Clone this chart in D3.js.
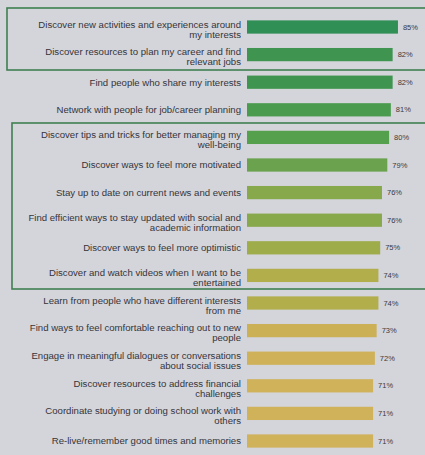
<!DOCTYPE html>
<html>
<head>
<meta charset="utf-8">
<script src="https://cdn.jsdelivr.net/npm/d3@7"></script>
<style>
  html, body { margin: 0; padding: 0; background: #d4d4db; }
  svg { display: block; }
  text { font-family: "Liberation Sans", Arial, sans-serif; }
</style>
</head>
<body>
<svg id="chart" width="425" height="455"></svg>
<script>
// Survey items (label lines separated by "\n") and share of respondents (%)
const labels = [
  "Discover new activities and experiences around\nmy interests",
  "Discover resources to plan my career and find\nrelevant jobs",
  "Find people who share my interests",
  "Network with people for job/career planning",
  "Discover tips and tricks for better managing my\nwell-being",
  "Discover ways to feel more motivated",
  "Stay up to date on current news and events",
  "Find efficient ways to stay updated with social and\nacademic information",
  "Discover ways to feel more optimistic",
  "Discover and watch videos when I want to be\nentertained",
  "Learn from people who have different interests\nfrom me",
  "Find ways to feel comfortable reaching out to new\npeople",
  "Engage in meaningful dialogues or conversations\nabout social issues",
  "Discover resources to address financial\nchallenges",
  "Coordinate studying or doing school work with\nothers",
  "Re-live/remember good times and memories"
];
const values = [85, 82, 82, 81, 80, 79, 76, 76, 75, 74, 74, 73, 72, 71, 71, 71];

// Groups of items outlined with a frame (first and last item index)
const highlightGroups = [[0, 1], [4, 9]];

const svg = d3.select("#chart");
const W = 425;

const idx = d3.range(values.length);
const y = d3.scaleBand().domain(idx).range([13.2, 454.8]).paddingInner(0.52).paddingOuter(0.26);
const x = d3.scaleLinear().domain([0, 100]).range([247, 424.6]);

// Bar colour runs from deep green (highest share) to ochre (lowest)
const color = d3.scaleLinear()
  .domain([85, 82, 80, 79, 76, 75, 74, 73, 71])
  .range(["#2f8f55", "#3f954f", "#55a04c", "#6aa24e", "#88a84c", "#9eac4a", "#b2ae4c", "#cbb056", "#d0b25a"]);

const cy = i => y(i) + y.bandwidth() / 2;

// Highlight frames
const frameTop = [8, 123];
const frameBot = [70, 289];
const frameLeft = [7, 12];
highlightGroups.forEach((g, k) => {
  svg.append("rect")
    .attr("x", frameLeft[k])
    .attr("y", frameTop[k])
    .attr("width", W + 20 - frameLeft[k])
    .attr("height", frameBot[k] - frameTop[k])
    .attr("fill", "none")
    .attr("stroke", "#3f7f50")
    .attr("stroke-width", 1.6);
});

// Bars
svg.append("g").selectAll("rect")
  .data(idx)
  .join("rect")
  .attr("x", x(0))
  .attr("y", i => y(i))
  .attr("width", i => x(values[i]) - x(0))
  .attr("height", y.bandwidth())
  .attr("fill", i => color(values[i]));

// Value labels
svg.append("g").selectAll("text")
  .data(idx)
  .join("text")
  .attr("x", i => x(values[i]) + 5)
  .attr("y", i => cy(i))
  .attr("dy", "0.35em")
  .attr("font-size", 7.5)
  .attr("fill", "#3a3a40")
  .text(i => values[i] + "%");

// Category labels, right-aligned against the bars
const lab = svg.append("g").selectAll("text")
  .data(idx)
  .join("text")
  .attr("x", x(0) - 6)
  .attr("y", i => cy(i))
  .attr("text-anchor", "end")
  .attr("font-size", 9.6)
  .attr("fill", "#35353a");

lab.each(function(i) {
  const lines = labels[i].split("\n");
  const t = d3.select(this);
  const off = lines.length > 1 ? -2.5 : 0;
  lines.forEach((ln, j) => {
    t.append("tspan")
      .attr("x", x(0) - 6)
      .attr("y", cy(i) + off + j * 10)
      .attr("dy", "0.35em")
      .text(ln);
  });
});
</script>
</body>
</html>
